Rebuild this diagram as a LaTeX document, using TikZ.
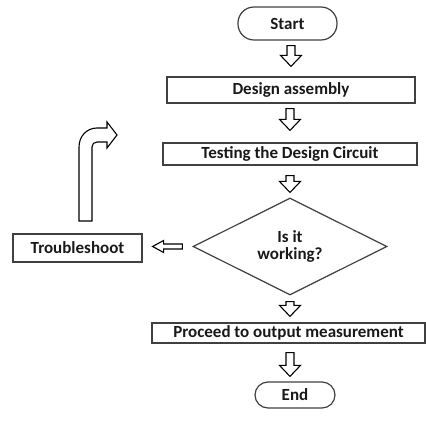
\documentclass[tikz,border=0pt]{standalone}
\usepackage{fontspec}
\setmainfont{Carlito}
\usetikzlibrary{shapes.geometric,calc}

% hollow block arrow pointing down: #1 = top of the shaft, #2 = tip
\newcommand\hollowdown[2]{%
  \draw[arrowline] let \p1=#1, \p2=#2 in
    (\x1-4pt,\y1) -- (\x1-4pt,\y2+11pt) -- (\x1-10.5pt,\y2+11pt) -- (\x1,\y2)
    -- (\x1+10.5pt,\y2+11pt) -- (\x1+4pt,\y2+11pt) -- (\x1+4pt,\y1) -- cycle;}
% hollow block arrow pointing left: #1 = tail of the shaft, #2 = tip
\newcommand\hollowleft[2]{%
  \draw[arrowline] let \p1=#1, \p2=#2 in
    (\x1,\y1-2.5pt) -- (\x2+11pt,\y1-2.5pt) -- (\x2+11pt,\y1-6pt) -- (\x2,\y1)
    -- (\x2+11pt,\y1+6pt) -- (\x2+11pt,\y1+2.5pt) -- (\x1,\y1+2.5pt) -- cycle;}

\begin{document}
\begin{tikzpicture}[x=1pt,y=-1pt,
  every node/.style={font=\bfseries\fontsize{17}{17}\selectfont, text=black!90},
  box/.style={draw=black!75, line width=1.2pt, inner sep=0pt},
  terminal/.style={box, rounded corners=13pt},
  decision/.style={box, diamond, align=center},
  arrowline/.style={draw=black, line width=1.1pt, fill=white, line join=miter}]
\useasboundingbox (0,0) rectangle (426,422);

% process steps
\node[terminal, rounded corners=16pt, minimum width=99pt, minimum height=33pt] (start) at (287.5,23.5) {Start};
\node[box, minimum width=248pt, minimum height=26pt] (design) at (291,90) {Design assembly};
\node[box, minimum width=254pt, minimum height=22pt] (testing) at (290,154) {Testing the Design Circuit};
\node[decision, minimum width=194pt, minimum height=85pt] (decide) at (290,246.5) {Is it\\working?};
\node[box, minimum width=129pt, minimum height=28pt] (trouble) at (77.5,248) {Troubleshoot};
\node[box, minimum width=273pt, minimum height=20pt] (proceed) at (288.5,333) {Proceed to output measurement};
\node[terminal, minimum width=80pt, minimum height=26pt] (end) at (295,395) {End};

% flow arrows
\hollowdown{($(start.south -| design.north)+(0,5)$)}{($(design.north)+(0,-10)$)}
\hollowdown{($(design.south -| testing.north)+(0,5)$)}{($(testing.north)+(0,-12)$)}
\hollowdown{($(testing.south)+(0,10)$)}{($(decide.north)+(0,-5)$)}
\hollowdown{($(decide.south)+(0,6)$)}{($(proceed.north -| decide.south)+(0,-6)$)}
\hollowdown{($(proceed.south -| decide.south)+(0,9)$)}{($(end.north -| decide.south)+(0,-5)$)}

% "no" branch and the loop back to testing
\hollowleft{($(decide.west)+(-10,0)$)}{($(trouble.east)+(10,0)$)}
\draw[arrowline] (79,221) -- (79,147) .. controls (79,136) and (87,128) .. (97,128)
  -- (107,128) -- (107,122) -- (117,135) -- (107,148) -- (107,142) -- (97,142)
  .. controls (94,142) and (92,144) .. (92,147) -- (92,221) -- cycle;
\end{tikzpicture}
\end{document}
